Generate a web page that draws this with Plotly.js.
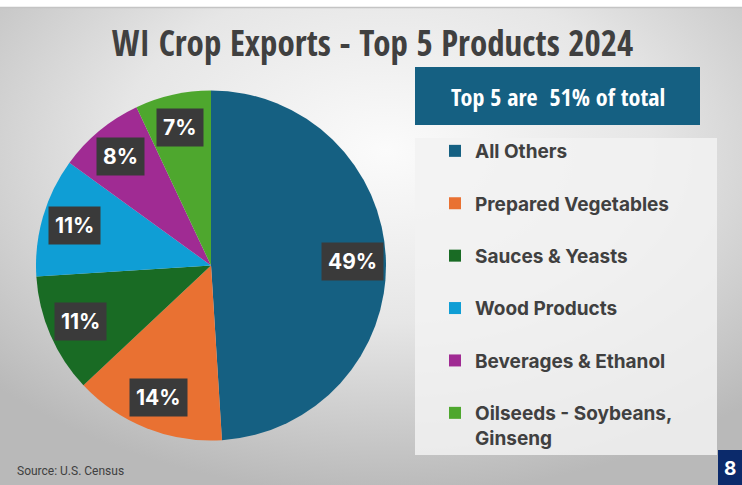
<!DOCTYPE html>
<html><head><meta charset="utf-8">
<script src="https://cdn.plot.ly/plotly-3.0.1.min.js"></script>
<style>html,body{margin:0;padding:0;background:#fff}#chart{width:742px;height:485px}</style>
</head><body><div id="chart"></div>
<script>
// ---- data ----
const categories = ['All Others', 'Prepared Vegetables', 'Sauces & Yeasts', 'Wood Products', 'Beverages & Ethanol', 'Oilseeds - Soybeans,<br>Ginseng'];
const shares = [49, 14, 11, 11, 8, 7];
const sliceColors = ['#156082', '#E97132', '#196B24', '#0F9ED5', '#A02B93', '#4EA72E'];
const titleText = 'WI Crop Exports - Top 5 Products 2024';
const calloutText = 'Top 5 are  51% of total';
const sourceText = 'Source: U.S. Census';
const slideNumber = '8';

// ---- layout geometry ----
const W = 742, H = 485;
const pieDomain = {x: [36 / W, 386 / W], y: [(H - 443) / H, (H - 88) / H]};
const narrow = '"Open Sans Condensed", sans-serif';
const bold = 'Inter, "Open Sans", sans-serif';

const legendLabels = categories.map(c => c.indexOf('<br>') >= 0 ? c : c + '<br> ');

// label positions from the pie's own geometry
const pxW = (pieDomain.x[1] - pieDomain.x[0]) * W;
const pxH = (pieDomain.y[1] - pieDomain.y[0]) * H;
const r = Math.min(pxW, pxH) / 2;
const cx = (pieDomain.x[0] + pieDomain.x[1]) / 2 * W;
const cy = H - (pieDomain.y[0] + pieDomain.y[1]) / 2 * H;
const total = shares.reduce((a, b) => a + b, 0);
let cum = 0;
const labelAnns = shares.map((v) => {
  const mid = (cum + v / 2) / total * 2 * Math.PI;
  cum += v;
  const f = 0.81;
  const x = cx + f * r * Math.sin(mid);
  const y = cy - f * r * Math.cos(mid);
  return {
    text: '<b>' + v + '%</b>', x: x / W, y: 1 - y / H, xref: 'paper', yref: 'paper',
    showarrow: false, xanchor: 'center', yanchor: 'middle',
    font: {family: bold, size: 21, color: '#ffffff'},
    bgcolor: '#3a3a3a', borderpad: 6
  };
});

const bgSvg = '<svg xmlns="http://www.w3.org/2000/svg" width="742" height="477" preserveAspectRatio="none">' +
  '<defs><radialGradient id="g" cx="0.52" cy="0.3" r="0.72">' +
  '<stop offset="0" stop-color="#fbfbfb"/><stop offset="0.5" stop-color="#e6e6e6"/><stop offset="1" stop-color="#b9b9b9"/>' +
  '</radialGradient></defs><rect width="742" height="477" fill="url(#g)"/></svg>';

const trace = {
  type: 'pie',
  labels: legendLabels,
  values: shares,
  sort: false,
  direction: 'clockwise',
  rotation: 0,
  marker: {colors: sliceColors, line: {width: 0}},
  textinfo: 'none',
  hoverinfo: 'none',
  domain: pieDomain
};

const layout = {
  width: W, height: H,
  margin: {l: 0, r: 0, t: 0, b: 0},
  paper_bgcolor: '#ffffff',
  showlegend: true,
  title: {text: titleText, x: 0.502, xanchor: 'center', y: 1 - 44 / H, yanchor: 'middle',
    font: {family: narrow, size: 35, color: '#404040', weight: 'bold'}},
  legend: {
    x: 435 / W, xanchor: 'left', y: 1 - 132 / H, yanchor: 'top',
    bgcolor: 'rgba(0,0,0,0)', borderwidth: 0, valign: 'top',
    font: {family: bold, size: 19, color: '#404040', weight: 'bold'}
  },
  images: [{source: 'data:image/svg+xml;charset=utf-8,' + encodeURIComponent(bgSvg),
    xref: 'paper', yref: 'paper', x: 0, y: 1 - 8 / H, sizex: 1, sizey: 477 / H,
    xanchor: 'left', yanchor: 'top', sizing: 'stretch', layer: 'below'}],
  shapes: [
    {type: 'line', xref: 'paper', yref: 'paper', x0: 0, x1: 1, y0: 1 - 7.5 / H, y1: 1 - 7.5 / H, line: {color: '#c4c4c4', width: 1.5}, layer: 'below'},
    {type: 'rect', xref: 'paper', yref: 'paper', x0: 415 / W, x1: 717 / W, y0: 1 - 455 / H, y1: 1 - 138 / H, fillcolor: 'rgba(242,242,242,0.85)', line: {width: 0}, layer: 'below'},
    {type: 'rect', xref: 'paper', yref: 'paper', x0: 415 / W, x1: 700 / W, y0: 1 - 125 / H, y1: 1 - 67 / H, fillcolor: '#156082', line: {width: 0}, layer: 'below'},
    {type: 'rect', xref: 'paper', yref: 'paper', x0: 718 / W, x1: 1, y0: 0, y1: 1 - 450 / H, fillcolor: '#0b2a6b', line: {width: 0}, layer: 'below'}
  ],
  annotations: labelAnns.concat([
    {text: calloutText, x: 558 / W, y: 1 - 97 / H, xref: 'paper', yref: 'paper', showarrow: false,
      xanchor: 'center', yanchor: 'middle', font: {family: narrow, size: 24, color: '#ffffff', weight: 'bold'}},
    {text: sourceText, x: 15 / W, y: 1 - 471 / H, xref: 'paper', yref: 'paper', showarrow: false,
      xanchor: 'left', yanchor: 'middle', font: {family: 'Roboto, sans-serif', size: 12, color: '#404040'}},
    {text: '<b>' + slideNumber + '</b>', x: 730 / W, y: 1 - 468 / H, xref: 'paper', yref: 'paper', showarrow: false,
      xanchor: 'center', yanchor: 'middle', font: {family: bold, size: 19, color: '#ffffff'}}
  ])
};

Plotly.newPlot('chart', [trace], layout, {displayModeBar: false, staticPlot: true});
</script>
</body></html>
